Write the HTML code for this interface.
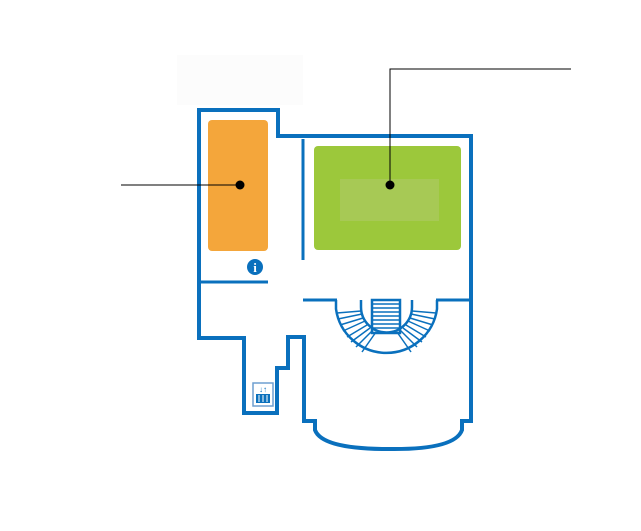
<!DOCTYPE html>
<html><head><style>html,body{margin:0;padding:0;background:#fff}svg{display:block}</style></head>
<body>
<svg width="641" height="531" viewBox="0 0 641 531" xmlns="http://www.w3.org/2000/svg">
<rect x="177" y="55" width="126" height="50" fill="#fcfcfc"/>
<g fill="none" stroke="#0a70bd" stroke-width="4" stroke-linejoin="miter">
<path d="M199 110 H278 V136 H471 V421 H462 V430 Q455 450 388 449 Q322 449 315 430 V421 H304 V337 H288 V368 H277 V413 H244 V338 H199 Z"/>
</g>
<g stroke="#0a70bd" stroke-width="3" fill="none">
<line x1="303" y1="139" x2="303" y2="260"/>
<line x1="199" y1="282" x2="268" y2="282"/>
<line x1="303" y1="300" x2="337" y2="300"/>
<line x1="436" y1="300" x2="471" y2="300"/>
<path d="M336 300 V309 A51 51 0 0 0 437 309 V300" stroke-width="2.5"/>
<path d="M361 300 V307 A25.5 25.5 0 0 0 412 307 V300" stroke-width="2.5"/>
<rect x="372" y="300" width="28" height="33" stroke-width="2.5"/>
</g>
<g stroke="#0a70bd" stroke-width="1.5">
<line x1="373" y1="304" x2="399" y2="304"/><line x1="373" y1="308" x2="399" y2="308"/>
<line x1="373" y1="312" x2="399" y2="312"/><line x1="373" y1="316" x2="399" y2="316"/>
<line x1="373" y1="320" x2="399" y2="320"/><line x1="373" y1="324" x2="399" y2="324"/>
<line x1="373" y1="328" x2="399" y2="328"/>
<line x1="337" y1="313" x2="361" y2="311"/><line x1="338" y1="319" x2="362" y2="314"/>
<line x1="340" y1="325" x2="363" y2="318"/><line x1="343" y1="331" x2="365" y2="321"/>
<line x1="347" y1="337" x2="367" y2="325"/><line x1="351" y1="342" x2="370" y2="328"/>
<line x1="356" y1="347" x2="373" y2="330"/><line x1="362" y1="352" x2="376" y2="332"/>
<line x1="436" y1="313" x2="412" y2="311"/><line x1="435" y1="319" x2="411" y2="314"/>
<line x1="433" y1="325" x2="410" y2="318"/><line x1="430" y1="331" x2="408" y2="321"/>
<line x1="426" y1="337" x2="406" y2="325"/><line x1="422" y1="342" x2="403" y2="328"/>
<line x1="417" y1="347" x2="400" y2="330"/><line x1="411" y1="352" x2="397" y2="332"/>
</g>
<rect x="208" y="120" width="60" height="131" rx="4" fill="#f4a63b"/>
<rect x="314" y="146" width="147" height="104" rx="4" fill="#9cc83b"/>
<rect x="340" y="179" width="99" height="42" fill="#a7c955"/>
<circle cx="255" cy="267" r="8" fill="#0a70bd"/>
<text x="255" y="272" font-family="Liberation Serif, serif" font-weight="bold" font-size="13" fill="#fff" text-anchor="middle">i</text>
<rect x="253" y="383" width="20" height="23" fill="#fff" stroke="#6f9fd0" stroke-width="1.5"/>
<text x="263" y="392" font-family="Liberation Sans, sans-serif" font-size="8" fill="#0a70bd" text-anchor="middle">↓↑</text>
<rect x="256" y="394" width="14" height="9" fill="#0a70bd"/>
<g stroke="#fff" stroke-width="1"><line x1="259" y1="395" x2="259" y2="402"/><line x1="263" y1="395" x2="263" y2="402"/><line x1="267" y1="395" x2="267" y2="402"/></g>
<g stroke="#000" stroke-width="1" fill="none">
<line x1="121" y1="185" x2="240" y2="185"/>
<polyline points="390,185 390,69 571,69"/>
</g>
<circle cx="240" cy="185" r="4.5" fill="#000"/>
<circle cx="390" cy="185" r="4.5" fill="#000"/>
</svg>
</body></html>
